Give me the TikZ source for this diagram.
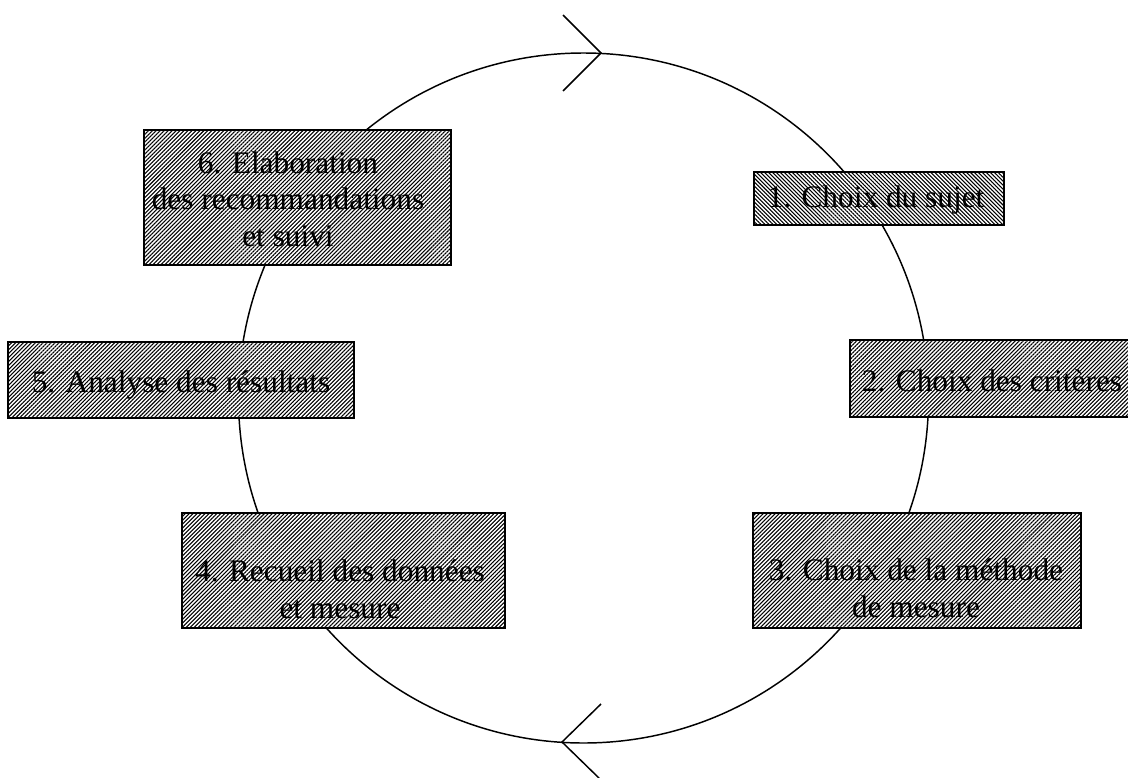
\documentclass[tikz,border=0pt]{standalone}
\usepackage{fontspec}
\setmainfont{Liberation Serif}
\usepackage{tikz}
\usetikzlibrary{patterns.meta}

\tikzset{
  stage/.style={draw, line width=1pt, inner sep=0pt, preaction={fill=white},
    pattern={Lines[angle=45,distance=2.1pt,line width=0.8pt]}},
  stageback/.style={draw, line width=1pt, inner sep=0pt, preaction={fill=white},
    pattern={Lines[angle=-45,distance=2.1pt,line width=0.8pt]}},
  stagetxt/.style={align=center, inner sep=0pt,
    font=\fontsize{23.5}{27.5}\selectfont},
  cycleline/.style={line width=1.1pt},
}

\begin{document}
\begin{tikzpicture}[x=0.75pt,y=0.75pt,yscale=-1,xscale=1]
\useasboundingbox (0,0) rectangle (1128,778);

% cycle
\draw[cycleline] (583.5,398) circle (345);

% arrow heads on the cycle
\coordinate (atop) at (601,53);
\coordinate (atopa) at (563,15);
\coordinate (atopb) at (563,91);
\draw[cycleline] (atopa) -- (atop) -- (atopb);
\coordinate (abot) at (562,742);
\coordinate (abota) at (601,704);
\coordinate (abotb) at (601,780);
\draw[cycleline] (abota) -- (abot) -- (abotb);

% stages
\node[stageback, minimum width=250*0.75pt, minimum height=53*0.75pt] (s1) at (879,198.5) {};
\node[stage, minimum width=286*0.75pt, minimum height=77*0.75pt] (s2) at (993,378.5) {};
\node[stage, minimum width=328*0.75pt, minimum height=115*0.75pt] (s3) at (917,570.5) {};
\node[stage, minimum width=323*0.75pt, minimum height=115*0.75pt] (s4) at (343.5,570.5) {};
\node[stage, minimum width=346*0.75pt, minimum height=76*0.75pt] (s5) at (181,380) {};
\node[stage, minimum width=307*0.75pt, minimum height=135*0.75pt] (s6) at (297.5,197.5) {};

% labels
\node[stagetxt] (t1) at (876,200) {1. Choix du sujet};
\node[stagetxt] (t2) at (992,381) {2. Choix des critères};
\node[stagetxt] (t3) at (916,588) {3. Choix de la méthode\\de mesure};
\node[stagetxt] (t4) at (340,589) {4. Recueil des données\\et mesure};
\node[stagetxt] (t5) at (181,385) {5. Analyse des résultats};
\node[stagetxt] (t6) at (288,199) {6. Elaboration\\des recommandations\\et suivi};

\end{tikzpicture}
\end{document}
